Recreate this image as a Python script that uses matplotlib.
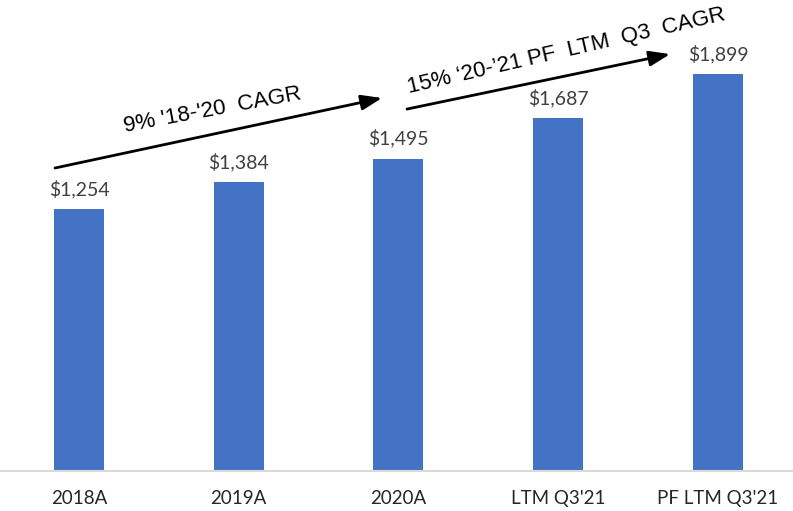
import matplotlib
matplotlib.use("Agg")
from matplotlib import pyplot as plt

# 数据
categories = ["2018A", "2019A", "2020A", "LTM Q3'21", "PF LTM Q3'21"]
values = [1254, 1384, 1495, 1687, 1899]
value_labels = ["$1,254", "$1,384", "$1,495", "$1,687", "$1,899"]

cagr_1 = "9% '18-'20  CAGR"
cagr_2 = "15% \u201820-\u201921 PF  LTM  Q3  CAGR"

fig = plt.figure(figsize=(7.93, 5.11), dpi=100)
ax = fig.add_axes([0, 40 / 511, 1, 471 / 511])

x = range(len(categories))
ax.bar(x, values, width=0.313, color="#4472C4", zorder=2)

# 柱顶数值
for i, (v, s) in enumerate(zip(values, value_labels)):
    ax.annotate(s, xy=(i, v), xytext=(0, 10), textcoords="offset points",
                ha="center", va="baseline", fontsize=14, family="Lato",
                color="#404040")

ax.set_xlim(-0.4945, 4.4695)
ax.set_ylim(0, 2254)

ax.set_xticks(list(x))
ax.set_xticklabels(categories, fontsize=13.5, family="Lato", color="#262626")
ax.tick_params(axis="x", length=0, pad=14)
ax.set_yticks([])

for side in ["top", "left", "right"]:
    ax.spines[side].set_visible(False)
ax.spines["bottom"].set_color("#d9d9d9")
ax.spines["bottom"].set_linewidth(1.5)

# CAGR 箭头
arrow = dict(arrowstyle="-|>,head_length=0.9,head_width=0.33",
             mutation_scale=14, color="black", lw=2, shrinkA=0, shrinkB=0)
ax.annotate("", xy=(1.897, 1785), xytext=(-0.150, 1450), arrowprops=arrow)
ax.annotate("", xy=(3.700, 1995), xytext=(2.053, 1732), arrowprops=arrow)

ax.text(0.833, 1727, cagr_1, rotation=10.5, ha="center", va="center",
        fontsize=16, family="Liberation Sans", rotation_mode="anchor")
ax.text(3.049, 2008, cagr_2, rotation=13, ha="center", va="center",
        fontsize=16, family="Liberation Sans", rotation_mode="anchor")

plt.savefig("out.png", dpi=100)
